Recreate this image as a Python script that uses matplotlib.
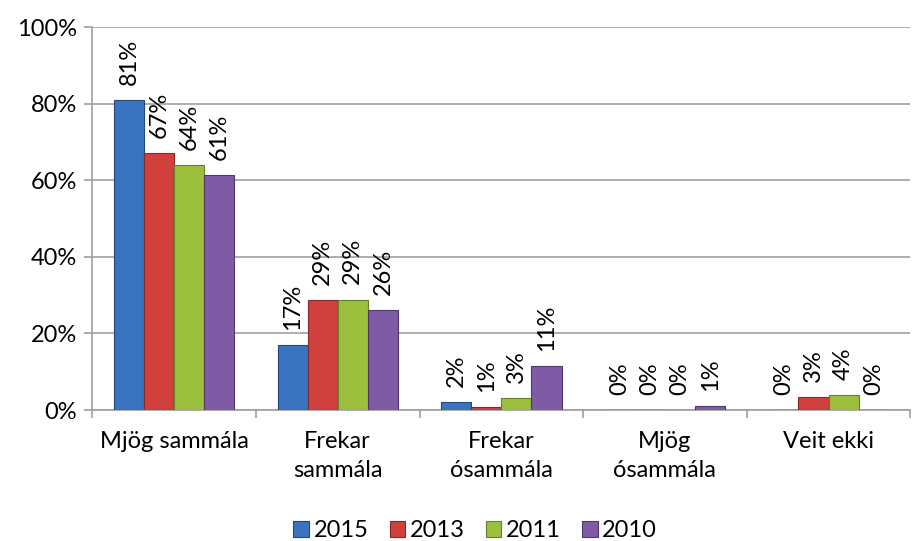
import numpy as np
import matplotlib
matplotlib.use("Agg")
from matplotlib import pyplot as plt
from matplotlib.ticker import FuncFormatter

plt.rcParams['font.family'] = ['Lato', 'DejaVu Sans']

categories = ["Mjög sammála", "Frekar\nsammála", "Frekar\nósammála", "Mjög\nósammála", "Veit ekki"]
years = ["2015", "2013", "2011", "2010"]
# bar heights (%), labels are the rounded ones
v2015 = [80.9, 17.0, 2.1, 0.0, 0.0]
v2013 = [67.1, 28.7, 0.8, 0.0, 3.4]
v2011 = [64.0, 28.8, 3.1, 0.0, 3.9]
v2010 = [61.3, 26.1, 11.4, 1.0, 0.0]
lab2015 = ["81%", "17%", "2%", "0%", "0%"]
lab2013 = ["67%", "29%", "1%", "0%", "3%"]
lab2011 = ["64%", "29%", "3%", "0%", "4%"]
lab2010 = ["61%", "26%", "11%", "1%", "0%"]

series = [v2015, v2013, v2011, v2010]
labels = [lab2015, lab2013, lab2011, lab2010]
colors = ["#3a74c0", "#d0403d", "#9cc03d", "#7f5ba6"]
edges = ["#23497c", "#8a2826", "#62802a", "#4f376c"]

fig = plt.figure(figsize=(9.14, 5.41), dpi=100)
ax = fig.add_axes([0.101, 0.242, 0.895, 0.708])

x = np.arange(len(categories))
w = 0.184
for i in range(4):
    pos = x + (i - 1.5) * w
    ax.bar(pos, series[i], width=w, color=colors[i], edgecolor=edges[i],
           linewidth=0.8, label=years[i], zorder=3)
    for p, v, t in zip(pos, series[i], labels[i]):
        ax.annotate(t, (p, v), xytext=(0, 11), textcoords="offset points",
                    rotation=90, ha="center", va="bottom", fontsize=17)

ax.set_xlim(-0.5, len(categories) - 0.5)
ax.set_ylim(0, 100)
ax.set_yticks(range(0, 101, 20))
ax.yaxis.set_major_formatter(FuncFormatter(lambda v, p: "%d%%" % v))
ax.yaxis.grid(True, color="#a0a0a0", linewidth=1.2, zorder=0)
ax.set_xticks(x)
ax.set_xticklabels(categories, fontsize=17, linespacing=1.45)
ax.set_xticks(np.arange(-0.5, len(categories)), minor=True)
ax.tick_params(axis="x", which="major", length=0, pad=15)
ax.tick_params(axis="x", which="minor", length=6, color="#a0a0a0", width=1.2)
ax.tick_params(axis="y", length=6, color="#a0a0a0", width=1.2, labelsize=17, pad=5)
for s in ["top", "right"]:
    ax.spines[s].set_visible(False)
for s in ["left", "bottom"]:
    ax.spines[s].set_color("#a0a0a0")
    ax.spines[s].set_linewidth(1.2)

fig.legend(loc="lower center", bbox_to_anchor=(0.52, -0.04), ncol=4,
           frameon=False, fontsize=17, handlelength=0.65, handleheight=0.65,
           handletextpad=0.2, columnspacing=0.9)

fig.savefig("out.png", dpi=100)
